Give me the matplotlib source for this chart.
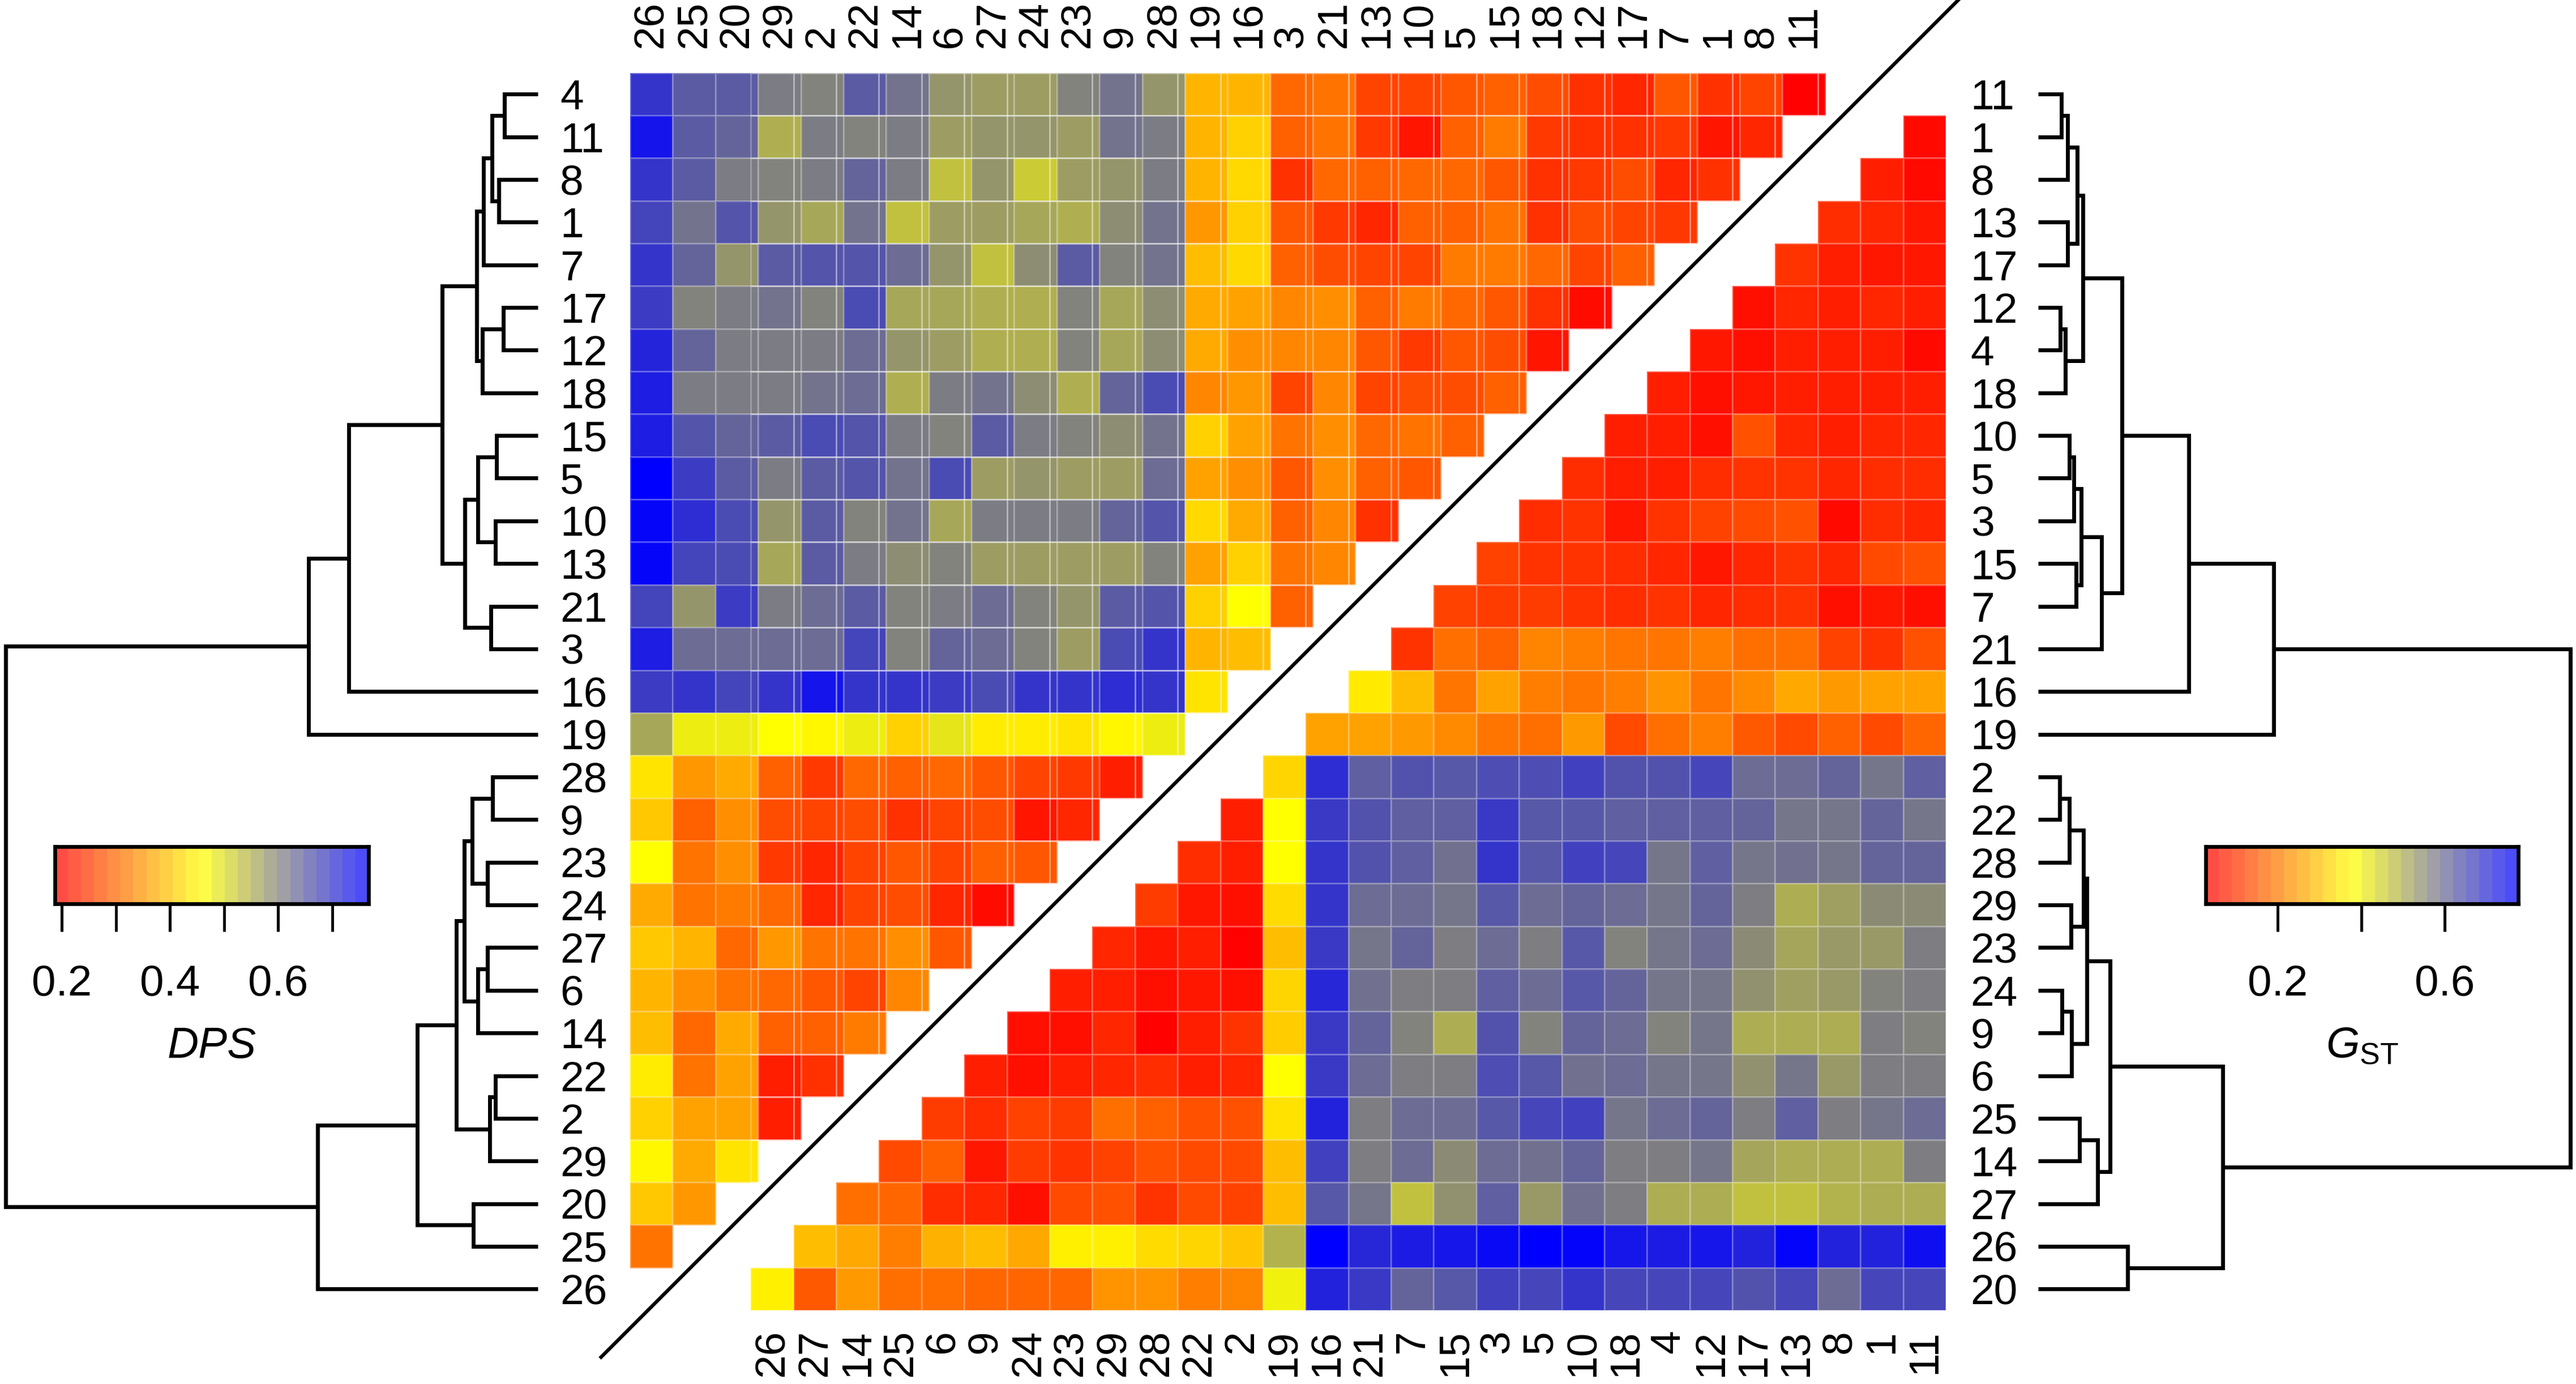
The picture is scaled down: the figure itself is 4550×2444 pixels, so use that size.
import numpy as np
import matplotlib
matplotlib.use("Agg")
import matplotlib.pyplot as plt
from matplotlib.colors import LinearSegmentedColormap, Normalize

plt.rcParams['font.family'] = ['Liberation Sans', 'DejaVu Sans']
plt.rcParams['mathtext.fontset'] = 'custom'
plt.rcParams['mathtext.it'] = 'Liberation Sans:italic'
plt.rcParams['mathtext.rm'] = 'Liberation Sans'

# ---------------- data ----------------
# row order (left = DPS clustering, right = GST clustering)
dps_rows = ["4", "11", "8", "1", "7", "17", "12", "18", "15", "5", "10", "13", "21", "3",
            "16", "19", "28", "9", "23", "24", "27", "6", "14", "22", "2", "29", "20", "25", "26"]
gst_rows = ["11", "1", "8", "13", "17", "12", "4", "18", "10", "5", "3", "15", "7", "21",
            "16", "19", "2", "22", "28", "29", "23", "24", "9", "6", "25", "14", "27", "26", "20"]
# column labels (top = DPS, bottom = GST)
dps_cols = ["26", "25", "20", "29", "2", "22", "14", "6", "27", "24", "23", "9", "28", "19",
            "16", "3", "21", "13", "10", "5", "15", "18", "12", "17", "7", "1", "8", "11"]
gst_cols = ["26", "27", "14", "25", "6", "9", "24", "23", "29", "28", "22", "2", "19", "16",
            "21", "7", "15", "3", "5", "10", "18", "4", "12", "17", "13", "8", "1", "11"]

# DPS, upper-left triangle: row i holds the values for the first 28-i columns
dps_values = [
    [0.70, 0.65, 0.65, 0.61, 0.60, 0.65, 0.62, 0.58, 0.57, 0.57, 0.60, 0.62, 0.58, 0.38, 0.38, 0.30, 0.31, 0.26, 0.26, 0.28, 0.29, 0.27, 0.24, 0.23, 0.28, 0.24, 0.26, 0.19],
    [0.74, 0.65, 0.64, 0.55, 0.61, 0.60, 0.61, 0.57, 0.58, 0.58, 0.57, 0.62, 0.61, 0.38, 0.41, 0.29, 0.31, 0.25, 0.21, 0.29, 0.32, 0.25, 0.24, 0.24, 0.25, 0.21, 0.23],
    [0.70, 0.65, 0.61, 0.60, 0.61, 0.64, 0.61, 0.53, 0.58, 0.52, 0.57, 0.58, 0.61, 0.38, 0.42, 0.24, 0.30, 0.29, 0.30, 0.30, 0.28, 0.24, 0.25, 0.27, 0.23, 0.24],
    [0.68, 0.62, 0.66, 0.58, 0.56, 0.62, 0.53, 0.57, 0.57, 0.56, 0.55, 0.59, 0.62, 0.35, 0.41, 0.28, 0.25, 0.23, 0.29, 0.29, 0.31, 0.24, 0.27, 0.26, 0.25],
    [0.70, 0.64, 0.58, 0.65, 0.66, 0.66, 0.63, 0.58, 0.53, 0.59, 0.65, 0.60, 0.62, 0.39, 0.42, 0.29, 0.27, 0.26, 0.26, 0.32, 0.32, 0.30, 0.26, 0.29],
    [0.69, 0.60, 0.61, 0.62, 0.60, 0.67, 0.56, 0.56, 0.55, 0.55, 0.60, 0.56, 0.59, 0.37, 0.36, 0.33, 0.34, 0.29, 0.32, 0.30, 0.28, 0.24, 0.20],
    [0.72, 0.64, 0.61, 0.61, 0.61, 0.63, 0.58, 0.57, 0.55, 0.55, 0.60, 0.56, 0.59, 0.37, 0.34, 0.33, 0.33, 0.28, 0.25, 0.28, 0.27, 0.21],
    [0.73, 0.61, 0.61, 0.61, 0.62, 0.63, 0.55, 0.61, 0.62, 0.59, 0.55, 0.64, 0.67, 0.33, 0.35, 0.26, 0.33, 0.26, 0.27, 0.27, 0.29],
    [0.73, 0.66, 0.64, 0.65, 0.67, 0.66, 0.61, 0.60, 0.65, 0.61, 0.60, 0.59, 0.62, 0.41, 0.36, 0.31, 0.34, 0.30, 0.31, 0.29],
    [0.77, 0.69, 0.65, 0.61, 0.65, 0.66, 0.62, 0.67, 0.57, 0.58, 0.57, 0.57, 0.63, 0.36, 0.34, 0.28, 0.34, 0.29, 0.28],
    [0.76, 0.71, 0.67, 0.58, 0.65, 0.60, 0.62, 0.56, 0.61, 0.61, 0.61, 0.64, 0.66, 0.42, 0.37, 0.29, 0.33, 0.24],
    [0.76, 0.68, 0.67, 0.56, 0.65, 0.61, 0.59, 0.60, 0.57, 0.57, 0.57, 0.57, 0.60, 0.36, 0.41, 0.31, 0.33],
    [0.68, 0.58, 0.69, 0.61, 0.63, 0.65, 0.60, 0.61, 0.63, 0.60, 0.58, 0.65, 0.66, 0.41, 0.46, 0.29],
    [0.73, 0.63, 0.63, 0.63, 0.63, 0.68, 0.60, 0.64, 0.63, 0.60, 0.57, 0.67, 0.70, 0.38, 0.39],
    [0.69, 0.70, 0.68, 0.70, 0.74, 0.70, 0.70, 0.69, 0.67, 0.70, 0.70, 0.71, 0.70, 0.43],
    [0.56, 0.48, 0.48, 0.46, 0.45, 0.48, 0.41, 0.49, 0.44, 0.44, 0.43, 0.45, 0.48],
    [0.43, 0.35, 0.37, 0.29, 0.25, 0.30, 0.29, 0.30, 0.28, 0.26, 0.25, 0.22],
    [0.40, 0.29, 0.34, 0.27, 0.26, 0.27, 0.24, 0.26, 0.27, 0.21, 0.23],
    [0.46, 0.31, 0.34, 0.25, 0.23, 0.26, 0.28, 0.26, 0.29, 0.28],
    [0.37, 0.31, 0.32, 0.30, 0.23, 0.26, 0.27, 0.23, 0.20],
    [0.40, 0.38, 0.30, 0.35, 0.31, 0.31, 0.34, 0.28],
    [0.38, 0.34, 0.31, 0.30, 0.28, 0.26, 0.33],
    [0.39, 0.30, 0.37, 0.29, 0.29, 0.32],
    [0.44, 0.31, 0.36, 0.22, 0.24],
    [0.41, 0.36, 0.36, 0.22],
    [0.45, 0.37, 0.43],
    [0.40, 0.35],
    [0.31],
    [],
]

# GST, lower-right triangle: row r holds the values for the last r columns
gst_values = [
    [],
    [0.04],
    [0.07, 0.04],
    [0.09, 0.08, 0.06],
    [0.10, 0.07, 0.06, 0.06],
    [0.05, 0.08, 0.07, 0.08, 0.07],
    [0.06, 0.05, 0.07, 0.07, 0.07, 0.04],
    [0.07, 0.05, 0.06, 0.07, 0.07, 0.07, 0.07],
    [0.07, 0.07, 0.05, 0.14, 0.08, 0.07, 0.08, 0.08],
    [0.09, 0.07, 0.07, 0.09, 0.10, 0.10, 0.08, 0.09, 0.09],
    [0.09, 0.10, 0.06, 0.10, 0.12, 0.13, 0.14, 0.04, 0.09, 0.08],
    [0.12, 0.10, 0.10, 0.09, 0.08, 0.06, 0.08, 0.10, 0.08, 0.13, 0.14],
    [0.12, 0.11, 0.11, 0.10, 0.09, 0.10, 0.08, 0.09, 0.10, 0.05, 0.06, 0.05],
    [0.10, 0.18, 0.16, 0.21, 0.20, 0.19, 0.19, 0.20, 0.18, 0.18, 0.12, 0.10, 0.14],
    [0.35, 0.29, 0.19, 0.25, 0.20, 0.19, 0.20, 0.23, 0.19, 0.22, 0.26, 0.24, 0.25, 0.25],
    [0.25, 0.25, 0.24, 0.22, 0.19, 0.18, 0.24, 0.13, 0.18, 0.20, 0.15, 0.13, 0.16, 0.13, 0.17],
    [0.32, 0.70, 0.62, 0.64, 0.63, 0.65, 0.65, 0.67, 0.64, 0.64, 0.66, 0.60, 0.60, 0.61, 0.58, 0.62],
    [0.07, 0.38, 0.68, 0.64, 0.62, 0.62, 0.68, 0.63, 0.63, 0.62, 0.62, 0.62, 0.61, 0.58, 0.58, 0.61, 0.58],
    [0.09, 0.07, 0.38, 0.69, 0.64, 0.62, 0.59, 0.69, 0.63, 0.67, 0.66, 0.58, 0.62, 0.58, 0.59, 0.58, 0.61, 0.61],
    [0.11, 0.06, 0.05, 0.33, 0.69, 0.60, 0.60, 0.58, 0.63, 0.60, 0.61, 0.60, 0.58, 0.61, 0.57, 0.50, 0.52, 0.55, 0.55],
    [0.08, 0.06, 0.07, 0.03, 0.29, 0.68, 0.58, 0.61, 0.57, 0.60, 0.57, 0.63, 0.56, 0.58, 0.60, 0.55, 0.51, 0.53, 0.53, 0.57],
    [0.07, 0.07, 0.05, 0.06, 0.05, 0.32, 0.71, 0.59, 0.57, 0.57, 0.62, 0.60, 0.63, 0.61, 0.58, 0.58, 0.54, 0.52, 0.53, 0.56, 0.57],
    [0.05, 0.05, 0.08, 0.03, 0.07, 0.10, 0.31, 0.68, 0.61, 0.56, 0.50, 0.64, 0.56, 0.61, 0.60, 0.56, 0.58, 0.50, 0.50, 0.50, 0.57, 0.56],
    [0.07, 0.05, 0.07, 0.08, 0.09, 0.07, 0.08, 0.38, 0.68, 0.60, 0.57, 0.57, 0.65, 0.63, 0.59, 0.60, 0.58, 0.58, 0.54, 0.58, 0.53, 0.57, 0.57],
    [0.11, 0.09, 0.12, 0.11, 0.18, 0.16, 0.14, 0.14, 0.34, 0.72, 0.57, 0.60, 0.60, 0.63, 0.66, 0.67, 0.58, 0.60, 0.61, 0.57, 0.62, 0.57, 0.58, 0.60],
    [0.13, 0.16, 0.06, 0.11, 0.10, 0.12, 0.14, 0.13, 0.13, 0.29, 0.67, 0.57, 0.60, 0.55, 0.60, 0.59, 0.61, 0.57, 0.57, 0.58, 0.51, 0.50, 0.50, 0.50, 0.57],
    [0.18, 0.17, 0.09, 0.08, 0.05, 0.13, 0.14, 0.10, 0.13, 0.12, 0.29, 0.63, 0.58, 0.47, 0.54, 0.62, 0.53, 0.59, 0.57, 0.50, 0.50, 0.47, 0.47, 0.49, 0.50, 0.50],
    [0.29, 0.26, 0.20, 0.27, 0.29, 0.26, 0.36, 0.36, 0.33, 0.32, 0.30, 0.49, 0.78, 0.71, 0.73, 0.74, 0.76, 0.78, 0.77, 0.74, 0.73, 0.74, 0.72, 0.77, 0.72, 0.72, 0.75],
    [0.36, 0.15, 0.24, 0.18, 0.18, 0.17, 0.17, 0.17, 0.23, 0.23, 0.20, 0.21, 0.40, 0.72, 0.68, 0.61, 0.63, 0.67, 0.66, 0.69, 0.66, 0.66, 0.66, 0.64, 0.66, 0.60, 0.66, 0.66],
]

dps_range = (0.187, 0.767)
gst_range = (0.027, 0.776)

# dendrograms, built bottom-up: (left, right, merge height); the root is at height 1
d_a = ((("4", "11", 0.063), ("8", "1", 0.073), 0.086), "7", 0.102)
d_b = (("17", "12", 0.065), "18", 0.104)
d_c = ((("15", "5", 0.078), ("10", "13", 0.080), 0.113), ("21", "3", 0.088), 0.137)
d_top = ((((d_a, d_b, 0.115), d_c, 0.180), "16", 0.355), "19", 0.431)
d_d = ((("28", "9", 0.085), ("23", "24", 0.095), 0.123), (("27", "6", 0.095), "14", 0.113), 0.138)
d_e = (("22", "2", 0.080), "29", 0.090)
d_bot = (((d_d, d_e, 0.153), ("20", "25", 0.121), 0.227), "26", 0.414)
dps_tree = (d_top, d_bot, 1.0)

g_a = (((("11", "1", 0.044), "8", 0.055), ("13", "17", 0.055), 0.073),
       (("12", "4", 0.041), "18", 0.051), 0.084)
g_b = (((("10", "5", 0.058), "3", 0.067), ("15", "7", 0.071), 0.081), "21", 0.119)
g_top = (((g_a, g_b, 0.157), "16", 0.283), "19", 0.443)
g_c = (((("2", "22", 0.040), "28", 0.058), ("29", "23", 0.062), 0.085),
       (("24", "9", 0.045), "6", 0.063), 0.091)
g_bot = ((g_c, (("25", "14", 0.078), "27", 0.112), 0.135), ("26", "20", 0.168), 0.347)
gst_tree = (g_top, g_bot, 1.0)

# ---------------- layout (pixels of the 4550 x 2444 output) ----------------
W, H = 4550, 2444
shift = 2.83          # horizontal offset (in cells) of the GST triangle
lab_size = 54
key_size = 55
cmap = LinearSegmentedColormap.from_list(
    "ryb", [(0.0, "#ff0000"), (0.47, "#ffff00"), (0.72, "#808080"), (1.0, "#0000ff")])


def fig_rect(x0, y0, x1, y1):
    return [x0 / W, 1 - y1 / H, (x1 - x0) / W, (y1 - y0) / H]


fig = plt.figure(figsize=(W / 100, H / 100), dpi=100)

# heatmap
ax = fig.add_axes(fig_rect(1113, 128.5, 3437, 2314))
n = len(dps_rows)
dps_mat = np.full((n, n - 1), np.nan)
for i, row in enumerate(dps_values):
    dps_mat[i, :len(row)] = row
gst_mat = np.full((n, n - 1), np.nan)
for r, row in enumerate(gst_values):
    if row:
        gst_mat[r, n - 1 - len(row):] = row

ax.pcolormesh(np.arange(n), np.arange(n + 1), np.ma.masked_invalid(dps_mat),
              cmap=cmap, norm=Normalize(*dps_range),
              edgecolors=(1, 1, 1, 0.25), linewidth=0.9)
ax.pcolormesh(np.arange(n) + shift, np.arange(n + 1), np.ma.masked_invalid(gst_mat),
              cmap=cmap, norm=Normalize(*gst_range),
              edgecolors=(1, 1, 1, 0.25), linewidth=0.9)
ax.set_xlim(0, n - 1 + shift)
ax.set_ylim(n, 0)
ax.axis("off")

# separating diagonal, halfway between the two staircases
c = (n + n - 2 + shift) / 2.0
xd = np.array([-0.68, n - 1 + shift + 0.59])
ax.plot(xd, c - xd, color="black", lw=4.5, clip_on=False)

# labels
for i, lab in enumerate(dps_rows):
    ax.text(-1.645, i + 0.5, lab, ha="left", va="center_baseline", fontsize=lab_size)
for i, lab in enumerate(gst_rows):
    ax.text(n - 1 + shift + 0.58, i + 0.5, lab, ha="left", va="center_baseline",
            fontsize=lab_size)
for j, lab in enumerate(dps_cols):
    ax.text(j + 0.5, -0.577, lab, rotation=90, ha="center", va="bottom", fontsize=lab_size)
for k, lab in enumerate(gst_cols):
    ax.text(k + 0.5 + shift, n + 0.45, lab, rotation=90, ha="center", va="top",
            fontsize=lab_size)


def draw_tree(tax, node, order):
    if isinstance(node, str):
        return order.index(node) + 0.5, 0.0
    left, right, h = node
    yl, hl = draw_tree(tax, left, order)
    yr, hr = draw_tree(tax, right, order)
    tax.plot([hl, h, h, hr], [yl, yl, yr, yr], color="black", lw=5.0,
             solid_joinstyle="miter", solid_capstyle="butt", clip_on=False)
    return (yl + yr) / 2.0, h


lax = fig.add_axes(fig_rect(10, 128.5, 950, 2314))
draw_tree(lax, dps_tree, dps_rows)
lax.set_xlim(1.0, 0.0)
lax.set_ylim(n, 0)
lax.axis("off")

rax = fig.add_axes(fig_rect(3600, 128.5, 4540, 2314))
draw_tree(rax, gst_tree, gst_rows)
rax.set_xlim(0.0, 1.0)
rax.set_ylim(n, 0)
rax.axis("off")


# colour keys
def draw_key(rect, vrange, ticks, ticklabels):
    kax = fig.add_axes(rect)
    nb = 24
    edges = np.linspace(vrange[0], vrange[1], nb + 1)
    mids = (edges[:-1] + edges[1:]) / 2
    kax.pcolormesh(edges, [0, 1], mids[None, :], cmap=cmap, norm=Normalize(*vrange),
                   alpha=0.73, linewidth=0)
    kax.set_xlim(*vrange)
    kax.set_ylim(0, 1)
    kax.set_yticks([])
    kax.set_xticks(ticks)
    kax.set_xticklabels(ticklabels)
    kax.tick_params(axis="x", length=35, width=3.6, pad=42, labelsize=key_size)
    for s in kax.spines.values():
        s.set_linewidth(4.8)
    return kax


draw_key(fig_rect(97, 1495, 651, 1596), dps_range,
         [0.2, 0.3, 0.4, 0.5, 0.6, 0.7], ["0.2", "", "0.4", "", "0.6", ""])
fig.text(374 / W, 1 - 1868 / H, "DPS", style="italic", ha="center", va="baseline",
         fontsize=key_size)

draw_key(fig_rect(3896, 1495, 4448, 1596), gst_range,
         [0.2, 0.4, 0.6], ["0.2", "", "0.6"])
fig.text(4172 / W, 1 - 1868 / H, r"$G_{\mathrm{ST}}$", ha="center", va="baseline",
         fontsize=key_size)

fig.savefig("out.png", dpi=100, facecolor="white")
